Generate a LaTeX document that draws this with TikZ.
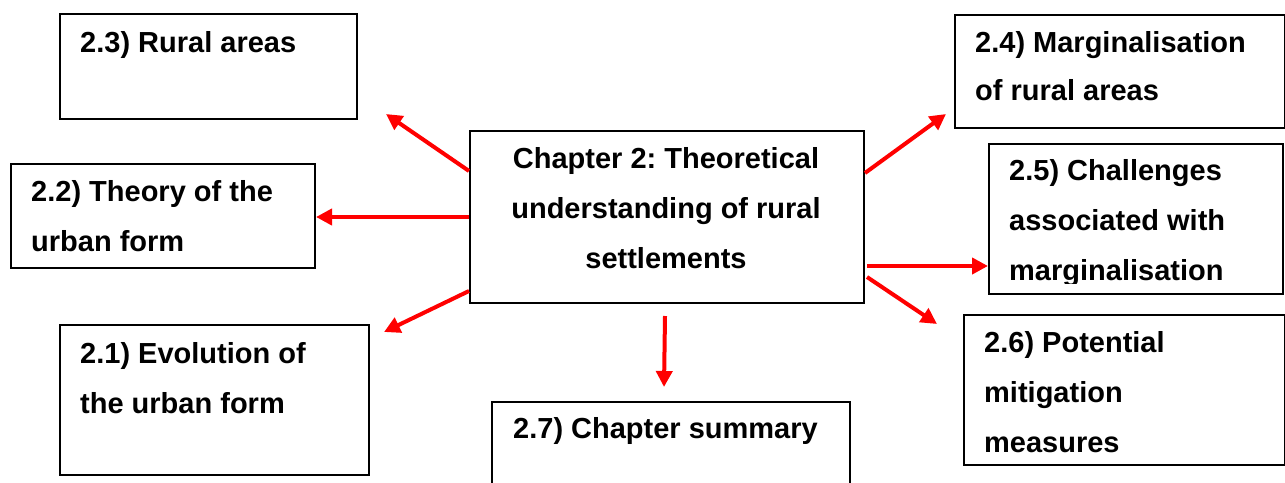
\documentclass[tikz,border=0pt]{standalone}
\usepackage{fontspec}
\setmainfont{Liberation Sans}
\usetikzlibrary{calc,arrows.meta}
\frenchspacing
\begin{document}
\begin{tikzpicture}[x=1pt,y=-1pt,
  box/.style={draw=black, line width=2pt, inner sep=0pt, anchor=north west},
  txt/.style={anchor=base west, inner sep=0pt, align=left,
    font=\fontsize{29}{50}\selectfont\bfseries},
  link/.style={draw=red, line width=4pt, -{Triangle[length=16pt,width=16pt]}}]
\useasboundingbox (0,0) rectangle (1285,482);

% central chapter box (text nodes are placed by their last baseline)
\node[box, minimum width=394pt, minimum height=172pt] (center) at (469,130) {};
\node[txt, anchor=base, align=center] (centertxt) at (666,268)
  {Chapter 2: Theoretical\\understanding of rural\\settlements};

% left-hand sections
\node[box, minimum width=297pt, minimum height=105pt] (b23) at (59,13) {};
\node[txt] (b23txt) at (80,52) {2.3) Rural areas};

\node[box, minimum width=304pt, minimum height=104pt] (b22) at (10,163) {};
\node[txt] (b22txt) at (31,251) {2.2) Theory of the\\urban form};

\node[box, minimum width=309pt, minimum height=150pt] (b21) at (59,324) {};
\node[txt] (b21txt) at (80,413) {2.1) Evolution of\\the urban form};

% bottom section (runs past the lower edge)
\node[box, minimum width=358pt, minimum height=120pt] (b27) at (491,401) {};
\node[txt] (b27txt) at (513,438) {2.7) Chapter summary};

% right-hand sections
\node[box, minimum width=330pt, minimum height=113pt] (b24) at (954,14) {};
\node[txt, font=\fontsize{29}{48}\selectfont\bfseries] (b24txt) at (975,100)
  {2.4) Marginalisation\\of rural areas};

\node[box, minimum width=294pt, minimum height=150pt] (b25) at (988,143) {};
\begin{scope}
  \clip (989,144) rectangle (1281,283);
  \node[txt] (b25txt) at (1009,280) {2.5) Challenges\\associated with\\marginalisation};
\end{scope}

\node[box, minimum width=321pt, minimum height=150pt] (b26) at (963,314) {};
\node[txt] (b26txt) at (984,452) {2.6) Potential\\mitigation\\measures};

% arrow ends
\coordinate (s23) at ($(center.west)+(0,-46)$);
\coordinate (s21) at ($(center.west)+(0,74)$);
\coordinate (s24) at ($(center.east)+(0,-44)$);
\coordinate (s25) at ($(center.east)+(2,49)$);
\coordinate (s26) at ($(center.east)+(2,60)$);
\coordinate (s27) at ($(center.south)+(-2,12)$);
\coordinate (t23) at (386,114);
\coordinate (t21) at (384,332);
\coordinate (t24) at (946,114);
\coordinate (t26) at (937,324);
\coordinate (t27) at (664,387);

% arrows out of the chapter box
\draw[link] (s23) -- (t23);
\draw[link] (center.west) -- (center.west -| b22.east);
\draw[link] (s21) -- (t21);
\draw[link] (s24) -- (t24);
\draw[link] (s25) -- (s25 -| b25.west);
\draw[link] (s26) -- (t26);
\draw[link] (s27) -- (t27);
\end{tikzpicture}
\end{document}
